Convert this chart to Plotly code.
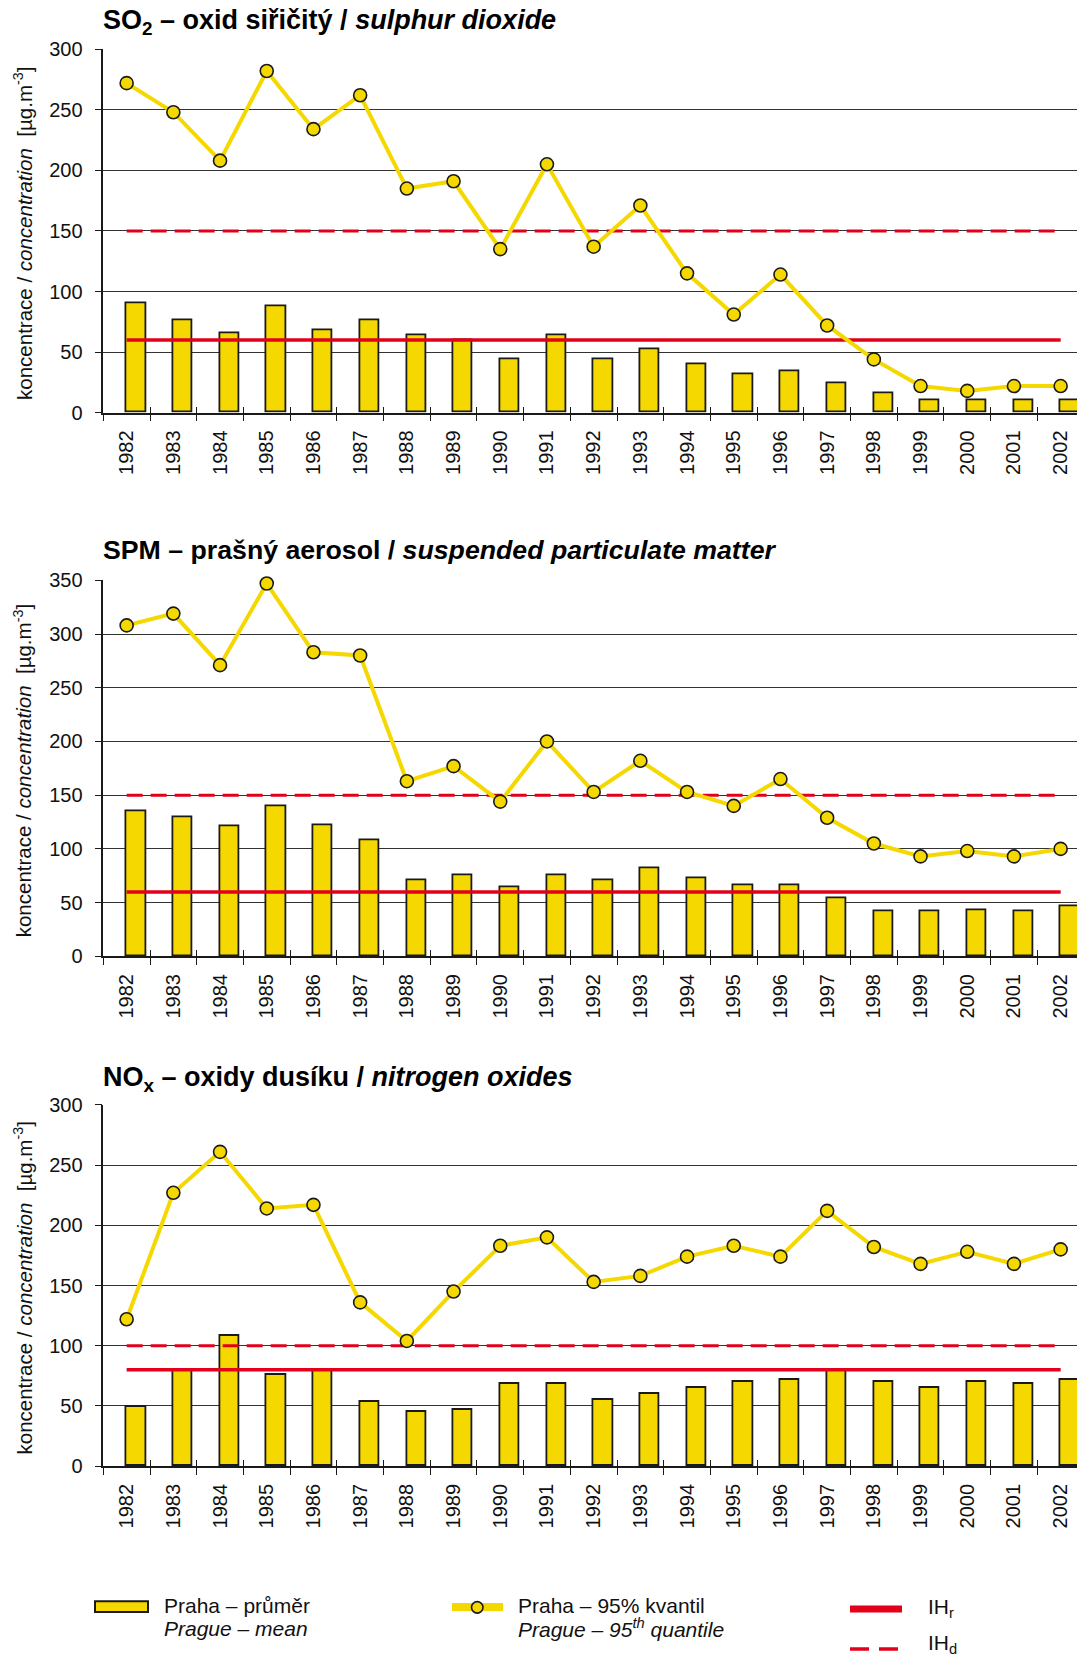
import plotly.graph_objects as go

# Categories
years = ["1982", "1983", "1984", "1985", "1986", "1987", "1988", "1989", "1990", "1991", "1992",
         "1993", "1994", "1995", "1996", "1997", "1998", "1999", "2000", "2001", "2002"]

# SO2 [µg.m-3]
so2_mean = [90, 76, 66, 88, 68, 76, 64, 60, 44, 64, 44, 52, 40, 32, 34, 24, 16, 10, 10, 10, 10]
so2_q95 = [272, 248, 208, 282, 234, 262, 185, 191, 135, 205, 137, 171, 115, 81, 114, 72, 44, 22, 18, 22, 22]
so2_ihr = 60
so2_ihd = 150

# SPM [µg.m-3]
spm_mean = [135, 129, 121, 140, 122, 108, 71, 75, 64, 75, 71, 82, 73, 66, 66, 54, 42, 42, 43, 42, 47]
spm_q95 = [308, 319, 271, 347, 283, 280, 163, 177, 144, 200, 153, 182, 153, 140, 165, 129, 105, 93, 98, 93, 100]
spm_ihr = 60
spm_ihd = 150

# NOx [µg.m-3]
nox_mean = [49, 80, 108, 76, 80, 53, 45, 47, 68, 68, 55, 60, 65, 70, 72, 80, 70, 65, 70, 68, 72]
nox_q95 = [122, 227, 261, 214, 217, 136, 104, 145, 183, 190, 153, 158, 174, 183, 174, 212, 182, 168, 178, 168, 180]
nox_ihr = 80
nox_ihd = 100

panel_titles = [
    "SO<sub>2</sub> – oxid siřičitý / <i>sulphur dioxide</i>",
    "SPM – prašný aerosol / <i>suspended particulate matter</i>",
    "NO<sub>x</sub> – oxidy dusíku / <i>nitrogen oxides</i>",
]
y_title = "koncentrace / <i>concentration</i>  [µg.m<sup>-3</sup>]"
y_max = [300, 350, 300]

W, H = 1077, 1672
# vertical page placement of the figure on screen (offset, scale)
SCREEN_TOP = 7.9
SCREEN_SCALE = 0.9893
FONT = "Liberation Sans, Arial, sans-serif"
YELLOW = "#F5D800"
RED = "#E2001A"
DARK = "#1a1a1a"


def fx(v):
    return v / W


def fy(v):
    return 1 - ((v - SCREEN_TOP) / SCREEN_SCALE) / H


# screen-pixel extents of each plot area (top, bottom) and the left edge
plot_top = [46.2, 578.6, 1104.5]
plot_bottom = [410.6, 955.6, 1466.7]
title_y = [19, 548, 1079]
plot_left = 103.3
x_range = [-0.5, 20.35]

series = [
    (so2_mean, so2_q95, so2_ihr, so2_ihd),
    (spm_mean, spm_q95, spm_ihr, spm_ihd),
    (nox_mean, nox_q95, nox_ihr, nox_ihd),
]

fig = go.Figure()
xs = list(range(len(years)))
bounds = [k - 0.5 for k in range(len(years) + 1)]
annotations = []
layout_axes = {}

for i, (mean, q95, ihr, ihd) in enumerate(series):
    n = i + 1
    xa, ya = f"x{n}", f"y{n}"
    # mean bars, sitting in the right half of each category
    fig.add_trace(go.Bar(
        x=xs, y=mean, xaxis=xa, yaxis=ya,
        offset=0.0, width=0.41,
        marker=dict(color=YELLOW, line=dict(color=DARK, width=1.8)),
        showlegend=False, hoverinfo="x+y",
    ))
    # limit values
    fig.add_trace(go.Scatter(
        x=[xs[0], xs[-1]], y=[ihr, ihr], xaxis=xa, yaxis=ya, mode="lines",
        line=dict(color=RED, width=3.5), showlegend=False, hoverinfo="skip",
    ))
    fig.add_trace(go.Scatter(
        x=[xs[0], xs[-1]], y=[ihd, ihd], xaxis=xa, yaxis=ya, mode="lines",
        line=dict(color=RED, width=3, dash="16px,8px"), showlegend=False, hoverinfo="skip",
    ))
    # 95th percentile line
    fig.add_trace(go.Scatter(
        x=xs, y=q95, xaxis=xa, yaxis=ya, mode="lines+markers",
        line=dict(color=YELLOW, width=4),
        marker=dict(symbol="circle", size=13, color=YELLOW, line=dict(color=DARK, width=1.6)),
        cliponaxis=False, showlegend=False,
    ))
    # helper axis carrying the upper half of the crossing tick marks
    fig.add_trace(go.Scatter(
        x=[None], y=[None], xaxis=f"x{n + 3}", yaxis=ya, showlegend=False, hoverinfo="skip",
    ))

    ydom = [fy(plot_bottom[i]), fy(plot_top[i])]
    xdom = [fx(plot_left), 1.0]
    layout_axes[f"xaxis{n}"] = dict(
        domain=xdom, anchor=ya, range=x_range, tickmode="array", tickvals=xs, ticktext=years,
        tickangle=-90, ticks="", showline=True, linecolor=DARK, linewidth=1.5,
        showgrid=False, zeroline=False, ticklabelstandoff=8,
        tickfont=dict(family=FONT, size=20, color="#111"),
        minor=dict(tickmode="array", tickvals=bounds, ticks="outside", ticklen=7,
                   tickcolor=DARK, tickwidth=1.2),
    )
    layout_axes[f"xaxis{n + 3}"] = dict(
        domain=xdom, anchor=ya, overlaying=xa, range=x_range, tickmode="array", tickvals=bounds,
        ticks="inside", ticklen=6, tickcolor=DARK, tickwidth=1.2, showticklabels=False,
        showline=False, showgrid=False, zeroline=False,
    )
    layout_axes[f"yaxis{n}"] = dict(
        domain=ydom, anchor=xa, range=[0, y_max[i]], tickmode="linear", tick0=0, dtick=50,
        ticks="outside", ticklen=7, tickcolor=DARK, tickwidth=1.2,
        showline=True, linecolor=DARK, linewidth=1.5,
        showgrid=True, gridcolor="#333333", gridwidth=1, zeroline=False,
        ticklabelstandoff=8, tickfont=dict(family=FONT, size=20, color="#111"),
    )

    annotations.append(dict(
        text=panel_titles[i], xref="paper", yref="paper", x=fx(plot_left - 2), y=fy(title_y[i]),
        xanchor="left", yanchor="middle", showarrow=False,
        font=dict(family=FONT, size=27 if i != 1 else 26.7, color="#000", weight="bold"),
    ))
    annotations.append(dict(
        text=y_title, xref="paper", yref="paper", x=fx(23),
        y=fy((plot_top[i] + plot_bottom[i]) / 2 + 3), xanchor="center", yanchor="middle",
        textangle=-90, showarrow=False, font=dict(family=FONT, size=20.5, color="#111"),
    ))

# legend block
legend_font = dict(family=FONT, size=21, color="#111")
shapes = [
    dict(type="rect", xref="paper", yref="paper", x0=fx(95), x1=fx(148), y0=fy(1613), y1=fy(1602),
         fillcolor=YELLOW, line=dict(color=DARK, width=2)),
    dict(type="line", xref="paper", yref="paper", x0=fx(452), x1=fx(503), y0=fy(1608), y1=fy(1608),
         line=dict(color=YELLOW, width=8)),
    dict(type="circle", xref="paper", yref="paper", x0=fx(471.5), x1=fx(483), y0=fy(1614), y1=fy(1602.5),
         fillcolor=YELLOW, line=dict(color=DARK, width=1.6)),
    dict(type="line", xref="paper", yref="paper", x0=fx(850), x1=fx(902), y0=fy(1610), y1=fy(1610),
         line=dict(color=RED, width=7)),
    dict(type="line", xref="paper", yref="paper", x0=fx(850), x1=fx(898), y0=fy(1650), y1=fy(1650),
         line=dict(color=RED, width=3.5, dash="19px,10px")),
]
legend_texts = [
    ("Praha – průměr", 162, 1606, False),
    ("Prague – mean", 162, 1629, True),
    ("Praha – 95% kvantil", 516, 1606, False),
    ("Prague – 95<sup>th</sup> quantile", 516, 1629, True),
    ("IH<sub>r</sub>", 926, 1609, False),
    ("IH<sub>d</sub>", 926, 1645, False),
]
for txt, lx, ly, ital in legend_texts:
    annotations.append(dict(
        text=f"<i>{txt}</i>" if ital else txt, xref="paper", yref="paper", x=fx(lx), y=fy(ly),
        xanchor="left", yanchor="middle", showarrow=False, font=legend_font,
    ))

fig.update_layout(
    width=W, height=H, margin=dict(l=0, r=0, t=0, b=0),
    paper_bgcolor="white", plot_bgcolor="white",
    showlegend=False, bargap=0, font=dict(family=FONT, color="#111"),
    annotations=annotations, shapes=shapes, **layout_axes,
)

fig.write_html("out.html")
